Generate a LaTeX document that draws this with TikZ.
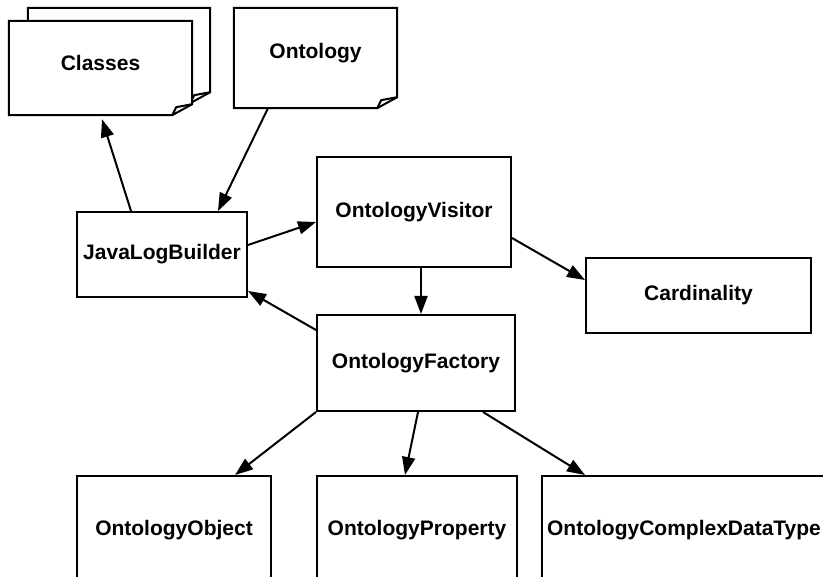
\documentclass[tikz,border=0pt]{standalone}
\usepackage{fontspec}
\setmainfont{Liberation Sans}
\usetikzlibrary{arrows.meta}

% outline of a sheet with a folded bottom right corner
\newcommand{\foldsheet}[1]{%
  \draw[fold] (#1.north west) -- (#1.north east) -- ([yshift=11pt]#1.south east)
    -- ([xshift=-20pt]#1.south east) -- (#1.south west) -- cycle;
  \draw[fold] ([yshift=11pt]#1.south east) -- ([xshift=-16pt,yshift=8pt]#1.south east)
    -- ([xshift=-20pt]#1.south east);
}

\begin{document}
\begin{tikzpicture} [
            x=1pt, y=-1pt,
            font=\fontsize{21}{25}\selectfont\bfseries,
            block/.style = { rectangle, draw, line width=2pt, fill=white,
                             inner sep=0pt },
            sheet/.style = { rectangle, fill=white, inner sep=0pt },
            fold/.style  = { draw, line width=2pt, line join=miter },
            line/.style  = { draw, line width=2pt,
                             -{Triangle[length=18pt,width=13pt]} },
          ]
          \useasboundingbox (0,0) rectangle (823,577);
          \clip (0,0) rectangle (823,577);

          % document sheets
          \node (classesback) [sheet, minimum width=182pt, minimum height=95pt] at (119,55.5) {};
          \foldsheet{classesback}
          \node (classes) [sheet, minimum width=183pt, minimum height=94pt,
                           label={[yshift=5pt]center:Classes}] at (100.5,68) {};
          \foldsheet{classes}
          \node (onto) [sheet, minimum width=163pt, minimum height=100pt,
                        label={[yshift=5pt]center:Ontology}] at (315.5,58) {};
          \foldsheet{onto}

          % classes
          \node (java) [block, minimum width=170pt, minimum height=85pt] at (162,254.5) {JavaLogBuilder};
          \node (visitor) [block, minimum width=194pt, minimum height=110pt] at (414,212) {OntologyVisitor};
          \node (card) [block, minimum width=225pt, minimum height=75pt] at (698.5,295.5) {Cardinality};
          \node (factory) [block, minimum width=198pt, minimum height=96pt] at (416,363) {OntologyFactory};
          \node (object) [block, minimum width=194pt, minimum height=108pt] at (174,530) {OntologyObject};
          \node (property) [block, minimum width=200pt, minimum height=108pt] at (417,530) {OntologyProperty};
          \node (complex) [block, minimum width=284pt, minimum height=108pt] at (684,530) {OntologyComplexDataType};

            \draw [line] ([xshift=-31pt]java.north) -- ([xshift=1.5pt,yshift=-4pt]classes.south);
            \draw [line] ([xshift=-47.5pt]onto.south) -- ([xshift=56pt]java.north);
            \draw [line] ([yshift=9.5pt]java.east) -- ([yshift=-10pt]visitor.west);
            \draw [line] ([yshift=33pt]factory.west) -- ([yshift=7pt]java.south east);
            \draw [line] ([xshift=7pt]visitor.south) -- ([xshift=5pt]factory.north);
            \draw [line] ([yshift=-26pt]visitor.east) -- ([yshift=15.5pt]card.west);
            \draw [line] (factory.south west) -- ([xshift=61pt]object.north);
            \draw [line] ([xshift=2pt]factory.south) -- ([xshift=-12pt]property.north);
            \draw [line] ([xshift=67pt]factory.south) -- ([xshift=-99pt]complex.north);
        \end{tikzpicture}
\end{document}
